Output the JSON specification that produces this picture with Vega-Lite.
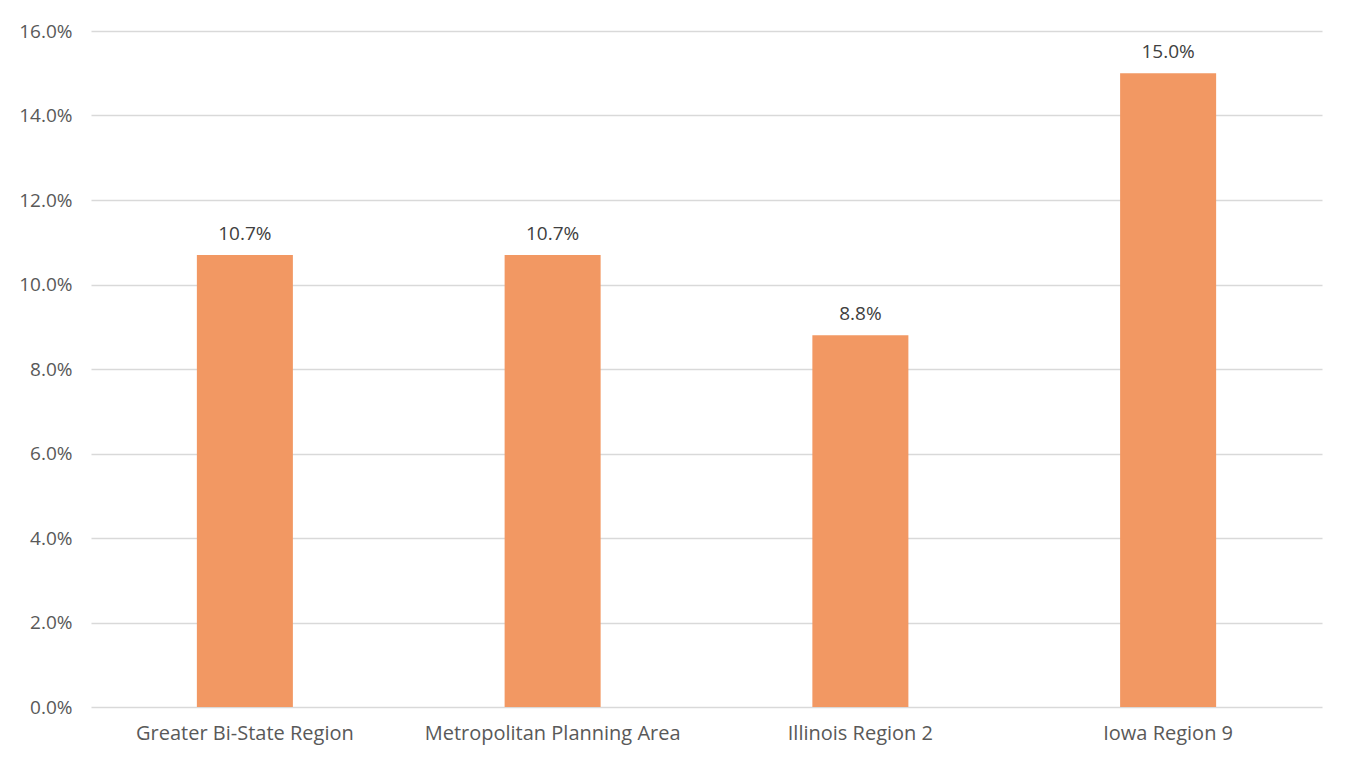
{
  "$schema": "https://vega.github.io/schema/vega-lite/v6.json",
  "width": 1231,
  "height": 676,
  "autosize": "none",
  "padding": {"left": 91, "top": 31, "right": 24, "bottom": 50},
  "background": "white",
  "data": {
    "values": [
      {"region": "Greater Bi-State Region", "value": 0.107},
      {"region": "Metropolitan Planning Area", "value": 0.107},
      {"region": "Illinois Region 2", "value": 0.088},
      {"region": "Iowa Region 9", "value": 0.150}
    ]
  },
  "encoding": {
    "x": {
      "field": "region",
      "type": "nominal",
      "sort": null,
      "title": null,
      "scale": {"paddingInner": 0.688, "paddingOuter": 0.344},
      "axis": {
        "labelAngle": 0,
        "ticks": false,
        "domain": false,
        "labelLimit": 0,
        "labelPadding": 16,
        "labelFont": "Open Sans",
        "labelFontSize": 20,
        "labelColor": "#595959"
      }
    },
    "y": {
      "field": "value",
      "type": "quantitative",
      "title": null,
      "scale": {"domain": [0, 0.16], "nice": false},
      "axis": {
        "values": [0, 0.02, 0.04, 0.06, 0.08, 0.1, 0.12, 0.14, 0.16],
        "format": ".1%",
        "ticks": false,
        "domain": false,
        "labelPadding": 19,
        "labelFont": "Open Sans",
        "labelFontSize": 19,
        "labelColor": "#595959",
        "gridColor": "#d9d9d9",
        "gridWidth": 1.3
      }
    }
  },
  "layer": [
    {"mark": {"type": "bar", "color": "#F29863"}},
    {
      "mark": {"type": "text", "baseline": "alphabetic", "dy": -15, "font": "Open Sans", "fontSize": 19, "color": "#404040"},
      "encoding": {"text": {"field": "value", "format": ".1%"}}
    }
  ],
  "config": {"view": {"stroke": null}}
}
